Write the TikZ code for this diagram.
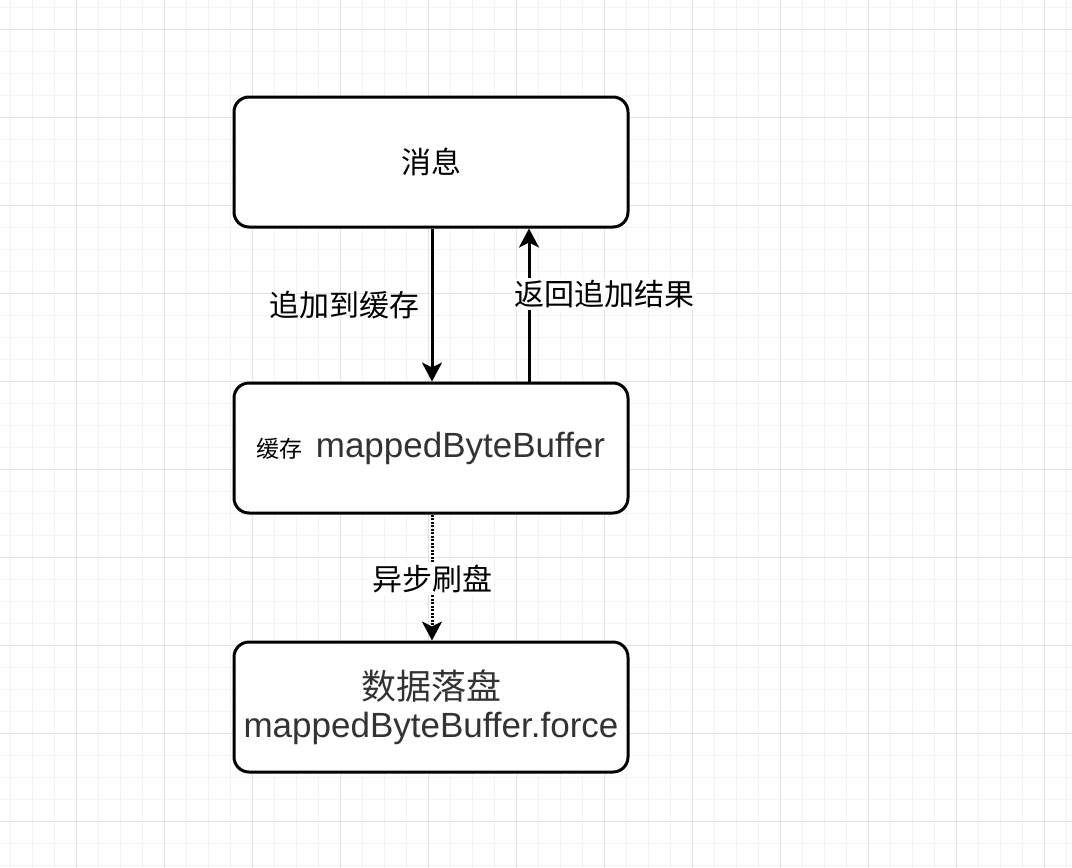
\documentclass[tikz,border=0pt]{standalone}
\usepackage{fontspec}
\setmainfont{Liberation Sans}
\newfontfamily\cjk{Noto Sans CJK SC}
\usetikzlibrary{arrows.meta}
\definecolor{gridminor}{HTML}{F3F3F3}
\definecolor{gridmajor}{HTML}{E3E3E3}
\definecolor{txt}{HTML}{333333}
\tikzset{
  box/.style={draw, line width=3pt, rounded corners=15pt, minimum width=394pt,
    minimum height=130pt, inner sep=0pt, fill=white, align=center},
  arr/.style={line width=3pt, -{Stealth[length=19pt,width=20pt,inset=5pt]}},
  dotarr/.style={arr, dash pattern=on 2pt off 1.5pt},
  lbl/.style={fill=white, inner sep=2pt, font=\fontsize{30}{36}\selectfont\cjk}
}
\begin{document}
\begin{tikzpicture}[x=1pt,y=-1pt]
\useasboundingbox (0,0) rectangle (1072,868);
\fill[white] (0,0) rectangle (1072,868);
\foreach \x in {10,32,...,1072} \draw[gridminor,line width=1pt] (\x,0) -- (\x,868);
\foreach \y in {7,29,...,868} \draw[gridminor,line width=1pt] (0,\y) -- (1072,\y);
\foreach \x in {76,164,...,1072} \draw[gridmajor,line width=1pt] (\x,0) -- (\x,868);
\foreach \y in {29,117,...,868} \draw[gridmajor,line width=1pt] (0,\y) -- (1072,\y);

\node[box] (msg) at (431,162) {\fontsize{30}{36}\selectfont\cjk 消息};
\node[box] (buf) at (431,448) {{\fontsize{23}{28}\selectfont\cjk 缓存}\hspace{13pt}{\color{txt}\fontsize{35}{40}\selectfont mappedByteBuffer}};
\node[box, text=txt, font=\fontsize{35}{38}\selectfont] (disk) at (431,707) {{\cjk 数据落盘}\\ mappedByteBuffer.force};

\draw[arr] ([xshift=1pt]msg.south) -- node[lbl, fill=none, xshift=-88pt] {追加到缓存} ([xshift=1pt]buf.north);
\draw[arr] ([xshift=98pt]buf.north) -- node[lbl, xshift=75pt, yshift=11pt] {返回追加结果} ([xshift=98pt]msg.south);
\draw[dotarr] ([xshift=1pt]buf.south) -- node[lbl, yshift=-1pt] {异步刷盘} ([xshift=1pt]disk.north);
\end{tikzpicture}
\end{document}
